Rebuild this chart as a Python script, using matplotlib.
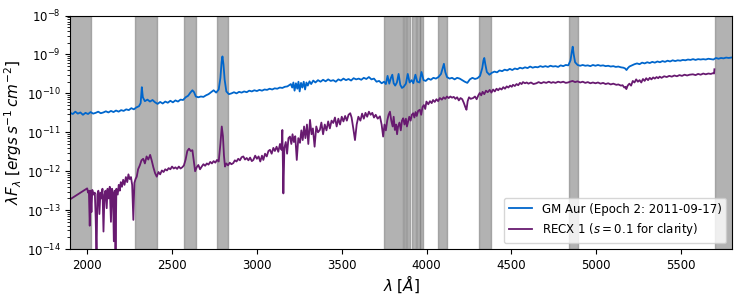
import numpy as np
import matplotlib
matplotlib.use("Agg")
import matplotlib.pyplot as plt

# GM Aur (Epoch 2) spectrum: wavelength [A], log10(lambda F_lambda)
gm_wave = [1900, 1915, 1930, 1945, 1960, 1975, 1990, 2005, 2020, 2035, 2050, 2065, 2080, 2095,
           2110, 2125, 2140, 2155, 2170, 2185, 2200, 2215, 2230, 2245, 2260, 2275, 2290, 2305,
           2315, 2322, 2328, 2340, 2355, 2370, 2385, 2400, 2415, 2430, 2445, 2460, 2475, 2490,
           2505, 2520, 2535, 2550, 2565, 2580, 2595, 2608, 2620, 2630, 2640, 2655, 2670, 2685,
           2700, 2715, 2730, 2745, 2760, 2775, 2785, 2792, 2797, 2803, 2810, 2820, 2835, 2850,
           2865, 2880, 2895, 2910, 2925, 2940, 2955, 2970, 2985, 3000, 3015, 3030, 3045, 3060,
           3075, 3090, 3105, 3120, 3135, 3150, 3165, 3180, 3190, 3200, 3208, 3215, 3222, 3230,
           3238, 3245, 3252, 3260, 3268, 3276, 3284, 3292, 3300, 3310, 3320, 3332, 3345, 3360,
           3375, 3390, 3405, 3420, 3435, 3450, 3465, 3480, 3495, 3510, 3525, 3540, 3555, 3570,
           3585, 3600, 3615, 3630, 3645, 3660, 3675, 3690, 3705, 3720, 3735, 3750, 3760, 3770,
           3780, 3790, 3798, 3806, 3815, 3825, 3835, 3845, 3855, 3865, 3878, 3889, 3900, 3912,
           3922, 3934, 3945, 3958, 3970, 3982, 3995, 4010, 4025, 4040, 4055, 4070, 4085, 4095,
           4102, 4110, 4120, 4135, 4150, 4165, 4180, 4195, 4210, 4225, 4240, 4255, 4270, 4285,
           4300, 4315, 4328, 4335, 4340, 4346, 4355, 4370, 4385, 4400, 4415, 4430, 4445, 4460,
           4475, 4490, 4505, 4520, 4535, 4550, 4565, 4580, 4595, 4610, 4625, 4640, 4655, 4670,
           4685, 4700, 4715, 4730, 4745, 4760, 4775, 4790, 4805, 4820, 4835, 4848, 4855, 4861,
           4867, 4875, 4890, 4905, 4920, 4935, 4950, 4965, 4980, 4995, 5010, 5025, 5040, 5055,
           5070, 5085, 5100, 5115, 5130, 5145, 5160, 5170, 5178, 5186, 5195, 5210, 5225, 5240,
           5255, 5270, 5285, 5300, 5315, 5330, 5345, 5360, 5375, 5390, 5405, 5420, 5435, 5450,
           5465, 5480, 5495, 5510, 5525, 5540, 5555, 5570, 5585, 5600, 5615, 5630, 5645, 5660,
           5675, 5690, 5705, 5720, 5735, 5750, 5765, 5780, 5795, 5810]
gm_logf = [-10.50, -10.53, -10.47, -10.52, -10.49, -10.55, -10.50, -10.53, -10.48, -10.52, -10.50, -10.47, -10.51, -10.49,
           -10.46, -10.49, -10.45, -10.48, -10.44, -10.47, -10.43, -10.45, -10.41, -10.43, -10.38, -10.41, -10.36, -10.33,
           -10.25, -9.84, -10.10, -10.20, -10.16, -10.21, -10.17, -10.23, -10.27, -10.22, -10.26, -10.21, -10.24, -10.19,
           -10.23, -10.18, -10.21, -10.16, -10.17, -10.10, -10.06, -9.98, -9.92, -9.97, -10.08, -10.10, -10.08, -10.09,
           -10.05, -10.02, -9.97, -9.92, -9.98, -9.90, -9.60, -9.20, -9.05, -9.25, -9.65, -9.95, -10.02, -10.00,
           -9.97, -10.00, -9.96, -9.98, -9.95, -9.97, -9.93, -9.95, -9.92, -9.94, -9.91, -9.93, -9.90, -9.91,
           -9.88, -9.90, -9.87, -9.88, -9.85, -9.86, -9.83, -9.82, -9.79, -9.76, -9.85, -9.72, -9.93, -9.74,
           -9.88, -9.70, -9.95, -9.73, -9.85, -9.70, -9.90, -9.72, -9.80, -9.69, -9.76, -9.67, -9.72, -9.66,
           -9.70, -9.65, -9.69, -9.64, -9.68, -9.66, -9.70, -9.64, -9.67, -9.62, -9.66, -9.63, -9.67, -9.61,
           -9.64, -9.62, -9.65, -9.60, -9.63, -9.58, -9.64, -9.62, -9.70, -9.68, -9.74, -9.70, -9.76, -9.55,
           -9.75, -9.60, -9.52, -9.74, -9.80, -9.72, -9.50, -9.78, -9.86, -9.83, -9.75, -9.50, -9.72, -9.66,
           -9.74, -9.52, -9.70, -9.72, -9.45, -9.66, -9.68, -9.62, -9.65, -9.60, -9.62, -9.58, -9.50, -9.35,
           -9.24, -9.45, -9.58, -9.62, -9.60, -9.64, -9.60, -9.62, -9.66, -9.70, -9.73, -9.64, -9.60, -9.63,
           -9.61, -9.55, -9.35, -9.15, -9.09, -9.25, -9.45, -9.52, -9.47, -9.44, -9.46, -9.41, -9.43, -9.39,
           -9.41, -9.37, -9.40, -9.36, -9.38, -9.34, -9.36, -9.33, -9.35, -9.31, -9.34, -9.32, -9.33, -9.30,
           -9.32, -9.30, -9.32, -9.29, -9.31, -9.30, -9.32, -9.28, -9.30, -9.27, -9.28, -9.15, -8.95, -8.80,
           -9.00, -9.20, -9.27, -9.29, -9.27, -9.29, -9.28, -9.30, -9.27, -9.29, -9.27, -9.29, -9.28, -9.30,
           -9.29, -9.31, -9.30, -9.32, -9.31, -9.33, -9.34, -9.36, -9.40, -9.35, -9.31, -9.28, -9.25, -9.23,
           -9.25, -9.21, -9.23, -9.20, -9.22, -9.19, -9.21, -9.18, -9.20, -9.17, -9.19, -9.16, -9.18, -9.15,
           -9.17, -9.15, -9.16, -9.14, -9.15, -9.13, -9.14, -9.12, -9.14, -9.12, -9.13, -9.12, -9.13, -9.11,
           -9.12, -9.13, -9.09, -9.11, -9.09, -9.10, -9.08, -9.09, -9.08, -9.07]

# RECX 1 spectrum (scaled by s = 0.1): wavelength [A], log10(lambda F_lambda)
rx_wave = [1900, 2000, 2005, 2010, 2015, 2020, 2025, 2030, 2038, 2045, 2050, 2055, 2060, 2066,
           2072, 2078, 2085, 2090, 2096, 2102, 2108, 2115, 2120, 2127, 2133, 2140, 2146, 2152,
           2157, 2163, 2167, 2172, 2180, 2186, 2192, 2198, 2205, 2212, 2220, 2228, 2236, 2243,
           2250, 2258, 2265, 2272, 2278, 2285, 2292, 2300, 2310, 2320, 2330, 2340, 2350, 2360,
           2371, 2380, 2390, 2400, 2410, 2420, 2430, 2440, 2450, 2460, 2470, 2480, 2490, 2500,
           2510, 2520, 2530, 2540, 2550, 2560, 2570, 2580, 2590, 2600, 2610, 2620, 2630, 2636,
           2645, 2655, 2665, 2675, 2685, 2695, 2705, 2715, 2725, 2735, 2745, 2755, 2765, 2775,
           2785, 2793, 2800, 2806, 2812, 2820, 2830, 2840, 2850, 2861, 2870, 2880, 2890, 2900,
           2910, 2920, 2930, 2940, 2950, 2960, 2970, 2979, 2990, 3000, 3010, 3020, 3030, 3038,
           3048, 3058, 3068, 3077, 3087, 3097, 3106, 3116, 3126, 3136, 3145, 3150, 3156, 3162,
           3170, 3178, 3186, 3195, 3203, 3210, 3218, 3226, 3235, 3244, 3254, 3262, 3270, 3278,
           3286, 3295, 3303, 3313, 3322, 3330, 3340, 3350, 3360, 3371, 3380, 3390, 3400, 3410,
           3420, 3430, 3440, 3450, 3460, 3470, 3480, 3490, 3500, 3510, 3520, 3530, 3540, 3550,
           3558, 3568, 3578, 3588, 3598, 3610, 3620, 3630, 3640, 3650, 3660, 3670, 3680, 3690,
           3700, 3712, 3725, 3735, 3744, 3752, 3760, 3768, 3776, 3784, 3792, 3800, 3806, 3813,
           3820, 3826, 3832, 3840, 3848, 3855, 3862, 3870, 3878, 3884, 3891, 3898, 3906, 3913,
           3921, 3928, 3935, 3942, 3950, 3960, 3968, 3976, 3984, 3992, 3999, 4010, 4020, 4030,
           4038, 4048, 4058, 4068, 4078, 4090, 4100, 4110, 4120, 4130, 4140, 4150, 4160, 4170,
           4180, 4190, 4200, 4210, 4220, 4228, 4235, 4242, 4250, 4260, 4274, 4285, 4295, 4305,
           4313, 4322, 4330, 4340, 4350, 4360, 4372, 4382, 4392, 4402, 4412, 4422, 4431, 4442,
           4452, 4462, 4472, 4482, 4492, 4502, 4509, 4520, 4530, 4540, 4550, 4560, 4568, 4580,
           4590, 4600, 4615, 4630, 4647, 4660, 4675, 4690, 4705, 4720, 4735, 4745, 4760, 4775,
           4790, 4805, 4820, 4833, 4845, 4860, 4875, 4890, 4905, 4920, 4935, 4950, 4965, 4980,
           4995, 5010, 5025, 5040, 5055, 5070, 5085, 5100, 5118, 5130, 5145, 5155, 5165, 5172,
           5177, 5185, 5195, 5205, 5215, 5225, 5235, 5245, 5255, 5265, 5275, 5285, 5294, 5305,
           5315, 5325, 5335, 5345, 5355, 5365, 5373, 5385, 5400, 5415, 5430, 5445, 5460, 5475,
           5490, 5505, 5520, 5535, 5550, 5569, 5585, 5600, 5615, 5630, 5645, 5660, 5675, 5688,
           5694, 5696]
rx_logf = [-12.72, -12.44, -12.55, -12.50, -13.40, -12.50, -13.05, -12.48, -12.60, -12.55, -13.20, -14.20, -12.60, -12.50,
           -13.10, -12.55, -12.70, -12.45, -13.55, -12.60, -12.50, -12.95, -12.45, -12.70, -12.40, -13.30, -12.45, -12.55,
           -13.80, -12.50, -14.20, -12.45, -12.60, -12.35, -12.50, -12.28, -12.40, -12.22, -12.35, -12.15, -12.28, -12.08,
           -12.20, -12.15, -12.35, -13.25, -12.30, -12.20, -12.14, -11.95, -11.85, -11.72, -11.68, -11.80, -11.62, -11.70,
           -11.58, -11.72, -11.90, -12.05, -12.14, -12.02, -12.08, -11.98, -12.02, -11.95, -11.98, -11.92, -11.95, -11.88,
           -11.93, -11.90, -11.94, -11.88, -11.93, -11.90, -11.85, -11.70, -11.48, -11.42, -11.48, -11.46, -11.80, -12.00,
           -11.90, -11.84, -11.95, -11.88, -11.82, -11.86, -11.80, -11.83, -11.76, -11.80, -11.74, -11.78, -11.71, -11.75,
           -11.30, -10.85, -11.10, -11.60, -11.88, -11.80, -11.85, -11.78, -11.82, -11.79, -11.72, -11.75, -11.68, -11.72,
           -11.64, -11.62, -11.70, -11.66, -11.72, -11.65, -11.74, -11.71, -11.60, -11.68, -11.62, -11.75, -11.60, -11.71,
           -11.55, -11.62, -11.48, -11.45, -11.55, -11.40, -11.48, -11.37, -11.50, -11.30, -11.45, -10.94, -12.57, -11.40,
           -11.25, -11.55, -11.15, -11.11, -11.30, -11.05, -11.25, -11.10, -11.71, -11.15, -11.27, -10.95, -11.20, -10.85,
           -11.15, -10.80, -11.30, -10.68, -11.05, -10.90, -11.37, -10.85, -11.00, -10.94, -10.75, -11.05, -10.80, -10.95,
           -10.72, -10.90, -10.70, -10.76, -10.62, -10.85, -10.65, -10.80, -10.60, -10.72, -10.58, -10.70, -10.55, -10.51,
           -10.62, -10.90, -11.20, -10.80, -10.60, -10.70, -10.52, -10.65, -10.50, -10.60, -10.47, -10.55, -10.50, -10.62,
           -10.55, -10.65, -10.59, -10.80, -11.11, -10.80, -10.95, -10.70, -10.55, -10.47, -10.70, -10.85, -10.60, -10.94,
           -10.80, -11.05, -10.85, -10.75, -10.95, -10.70, -10.64, -10.80, -10.65, -10.85, -10.72, -10.60, -10.70, -10.55,
           -10.51, -10.62, -10.48, -10.58, -10.45, -10.42, -10.55, -10.35, -10.30, -10.40, -10.21, -10.28, -10.20, -10.25,
           -10.17, -10.22, -10.15, -10.20, -10.12, -10.16, -10.10, -10.14, -10.08, -10.12, -10.08, -10.11, -10.09, -10.14,
           -10.10, -10.18, -10.12, -10.15, -10.25, -10.35, -10.42, -10.20, -10.10, -10.14, -10.12, -10.08, -10.15, -10.05,
           -9.99, -10.05, -9.96, -10.02, -9.93, -9.97, -9.91, -9.98, -9.90, -9.95, -9.88, -9.92, -9.87, -9.90,
           -9.84, -9.88, -9.82, -9.85, -9.80, -9.83, -9.78, -9.81, -9.76, -9.79, -9.73, -9.76, -9.71, -9.74,
           -9.72, -9.75, -9.72, -9.76, -9.74, -9.71, -9.74, -9.71, -9.73, -9.70, -9.73, -9.71, -9.73, -9.70,
           -9.72, -9.70, -9.73, -9.72, -9.70, -9.68, -9.71, -9.69, -9.72, -9.70, -9.73, -9.71, -9.74, -9.72,
           -9.74, -9.72, -9.75, -9.73, -9.76, -9.74, -9.77, -9.75, -9.78, -9.77, -9.80, -9.79, -9.85, -9.83,
           -9.89, -9.80, -9.75, -9.80, -9.68, -9.72, -9.64, -9.70, -9.66, -9.72, -9.63, -9.68, -9.61, -9.66,
           -9.60, -9.64, -9.59, -9.62, -9.58, -9.61, -9.57, -9.60, -9.56, -9.58, -9.55, -9.57, -9.54, -9.56,
           -9.53, -9.55, -9.52, -9.54, -9.52, -9.51, -9.53, -9.50, -9.52, -9.49, -9.51, -9.49, -9.50, -9.48,
           -9.49, -9.38]

# Masked (shaded) wavelength windows [A]
band_lo = [1850, 2283, 2570, 2767, 3750, 3866, 3882, 3913, 3944, 3964, 4068, 4310, 4840, 5697]
band_hi = [2020, 2410, 2640, 2830, 3860, 3876, 3905, 3935, 3960, 3978, 4120, 4380, 4895, 5900]

label_gm = 'GM Aur (Epoch 2: 2011-09-17)'
label_rx = r'RECX 1 ($s = 0.1$ for clarity)'

fig = plt.figure(figsize=(7.47, 2.99), dpi=100)
ax = fig.add_axes([0.094, 0.167, 0.886, 0.781])

for lo, hi in zip(band_lo, band_hi):
    ax.axvspan(lo, hi, color='grey', alpha=0.6, lw=1.0)

ax.plot(gm_wave, 10 ** np.array(gm_logf), color='#0066CC', lw=1.3, label=label_gm)
ax.plot(rx_wave, 10 ** np.array(rx_logf), color='#681A70', lw=1.3, label=label_rx)

ax.set_yscale('log')
ax.set_xlim(1900, 5800)
ax.set_ylim(1e-14, 1e-8)
ax.tick_params(labelsize=8.5)
ax.set_xlabel(r'$\lambda\;[\AA]$', fontsize=11, labelpad=1)
ax.set_ylabel(r'$\lambda F_\lambda\;[ergs\,s^{-1}\,cm^{-2}]$', fontsize=11, labelpad=2)
ax.legend(loc='lower right', fontsize=8.5, framealpha=0.8)

fig.savefig('out.png', dpi=100)
